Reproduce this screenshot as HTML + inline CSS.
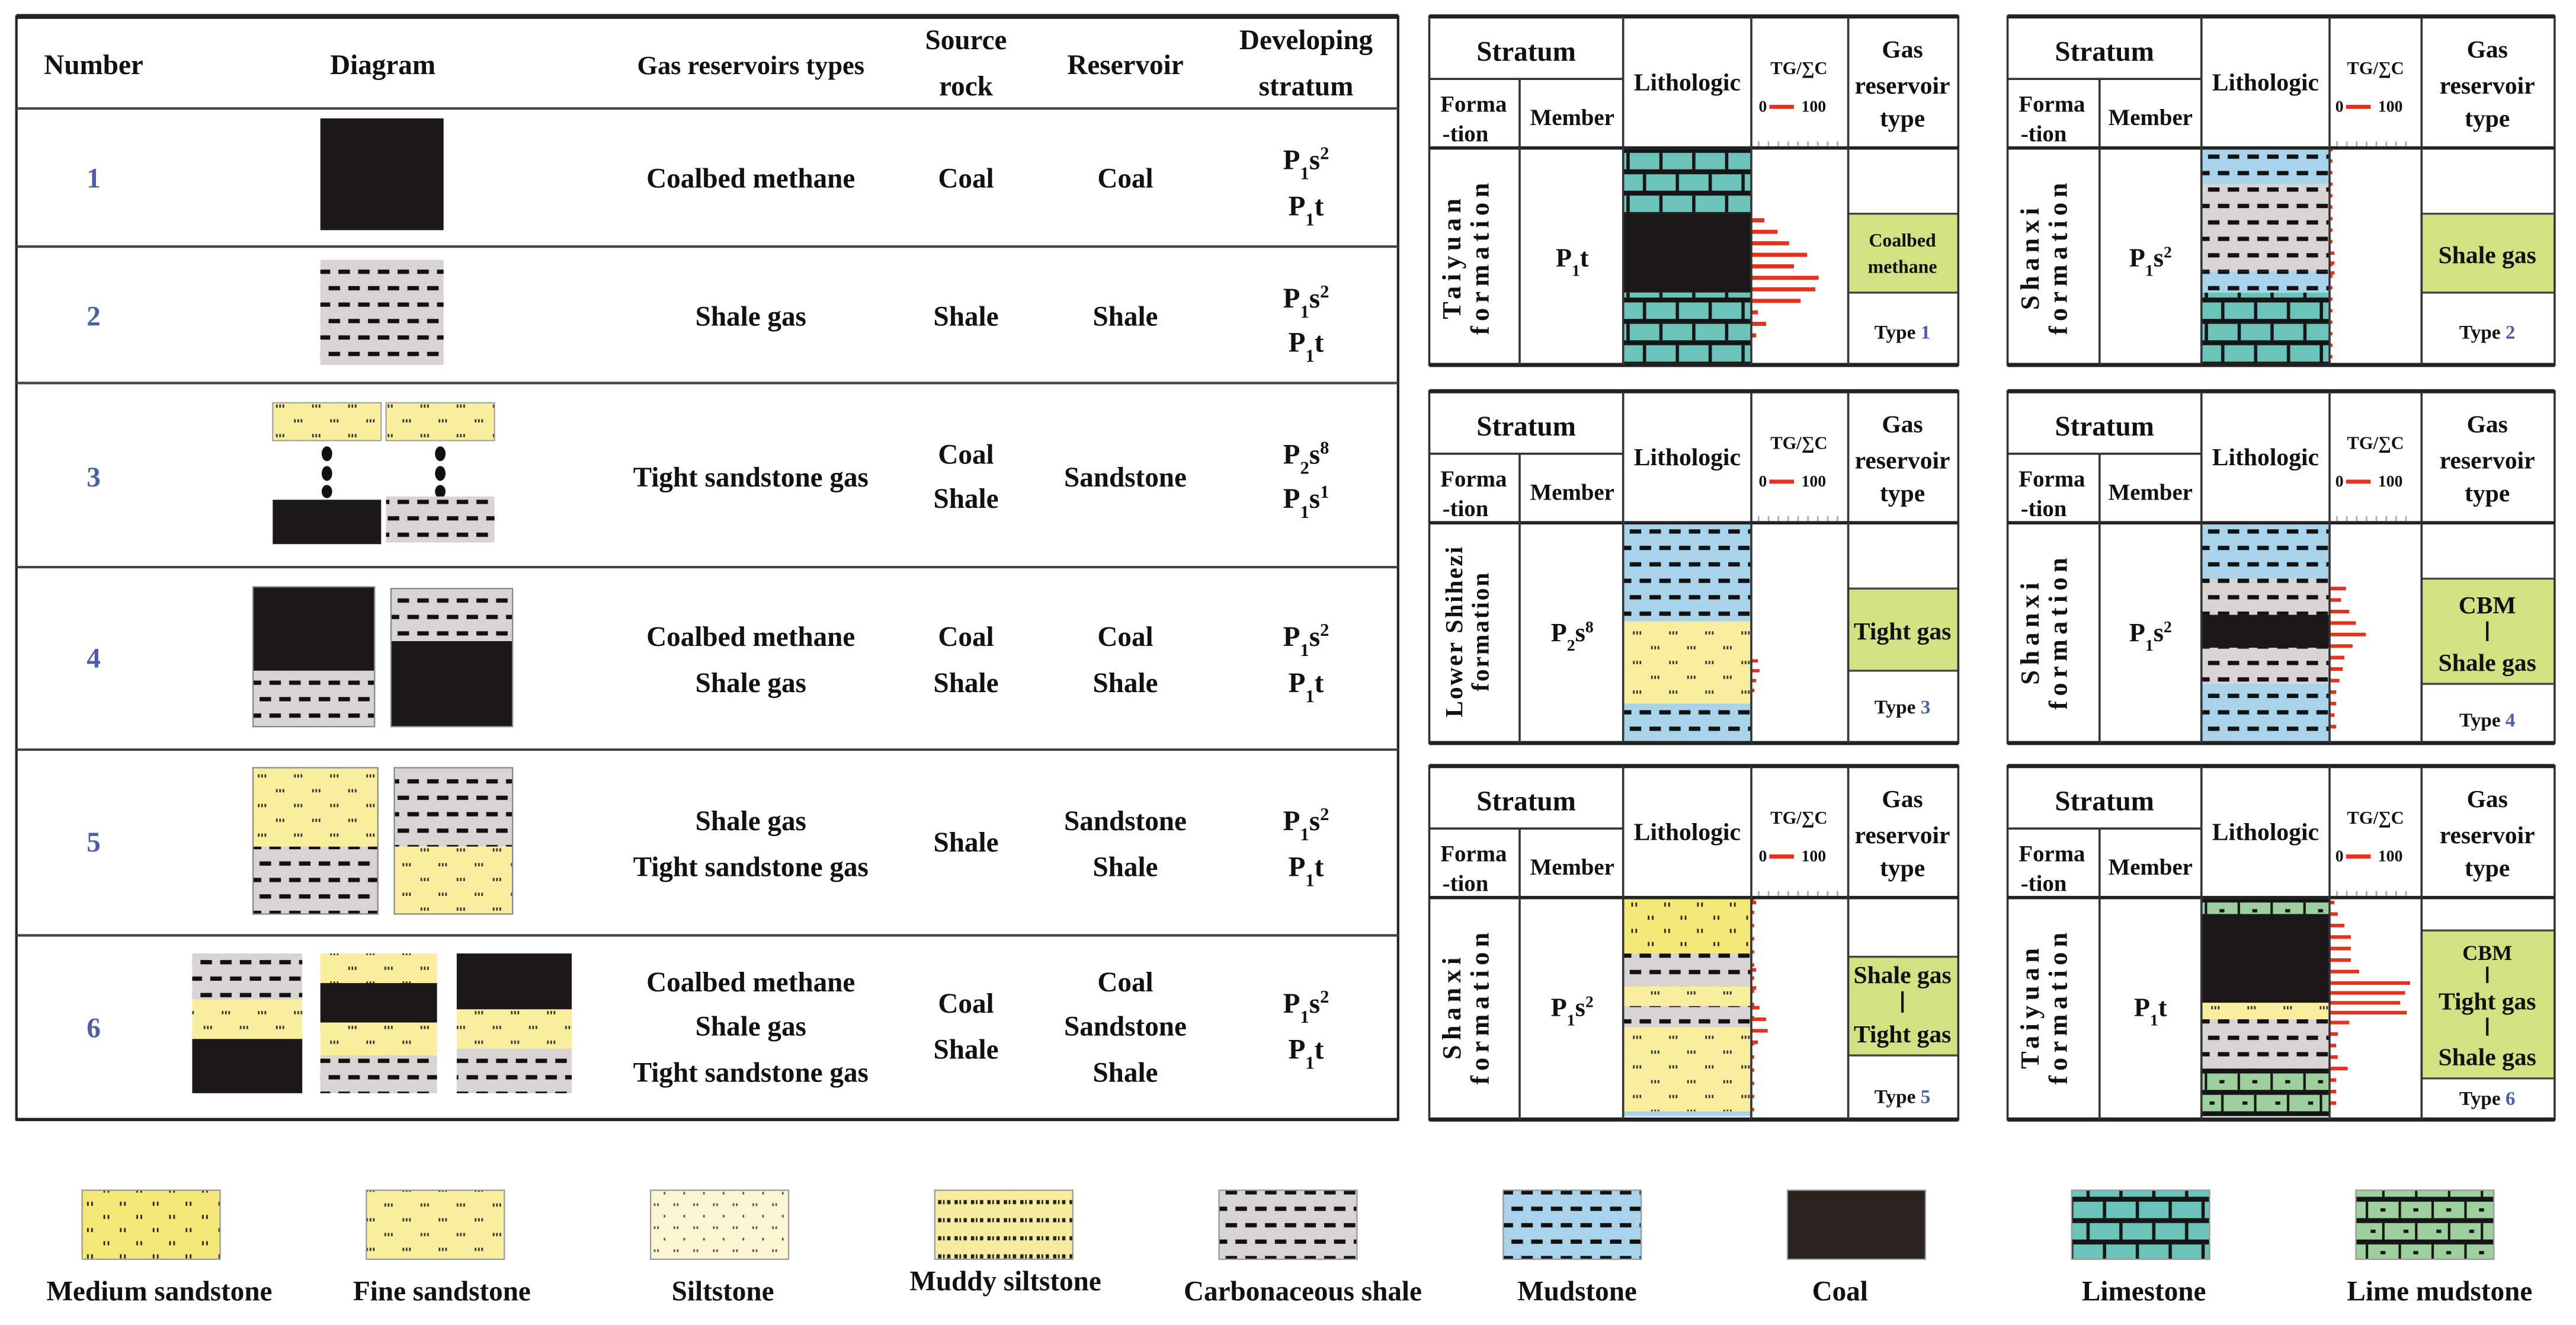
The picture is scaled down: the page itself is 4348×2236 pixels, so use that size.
<!DOCTYPE html>
<html><head><meta charset="utf-8"><style>
html,body{margin:0;padding:0;background:#fff;}
svg{display:block;}
text{font-family:"Liberation Serif",serif;font-weight:bold;fill:#111;}
</style></head><body>
<svg width="4348" height="2236" viewBox="0 0 1568 806" preserveAspectRatio="none" xmlns="http://www.w3.org/2000/svg">
<defs>
<pattern id="sh" patternUnits="userSpaceOnUse" width="24" height="20"><rect width="24" height="20" fill="#d8d4d3"/><rect x="2" y="4" width="7" height="2.6" fill="#111"/><rect x="14" y="4" width="7" height="2.6" fill="#111"/><rect x="-4" y="14" width="7" height="2.6" fill="#111"/><rect x="8" y="14" width="7" height="2.6" fill="#111"/><rect x="20" y="14" width="7" height="2.6" fill="#111"/></pattern>
<pattern id="md" patternUnits="userSpaceOnUse" width="24" height="20"><rect width="24" height="20" fill="#a8d3ea"/><rect x="2" y="4" width="7" height="2.6" fill="#111"/><rect x="14" y="4" width="7" height="2.6" fill="#111"/><rect x="-4" y="14" width="7" height="2.6" fill="#111"/><rect x="8" y="14" width="7" height="2.6" fill="#111"/><rect x="20" y="14" width="7" height="2.6" fill="#111"/></pattern>
<pattern id="ls" patternUnits="userSpaceOnUse" width="20" height="26"><rect width="20" height="26" fill="#6cc3ba"/><rect y="0" width="20" height="3" fill="#151515"/><rect x="0" y="3" width="2" height="10" fill="#151515"/><rect y="13" width="20" height="3" fill="#151515"/><rect x="10" y="16" width="2" height="10" fill="#151515"/></pattern>
<pattern id="lm" patternUnits="userSpaceOnUse" width="20" height="26"><rect width="20" height="26" fill="#9dd09e"/><rect y="0" width="20" height="3" fill="#151515"/><rect x="0" y="3" width="1.5" height="10" fill="#151515"/><rect x="9" y="7" width="3" height="2" fill="#151515"/><rect y="13" width="20" height="3" fill="#151515"/><rect x="10" y="16" width="1.5" height="10" fill="#151515"/><rect x="3" y="20" width="3" height="2" fill="#151515"/></pattern>
<pattern id="ms" patternUnits="userSpaceOnUse" width="20" height="16"><rect width="20" height="16" fill="#f4e877"/><rect x="3" y="3" width="1" height="2.5" fill="#222"/><rect x="5.5" y="3" width="1" height="2.5" fill="#222"/><rect x="13" y="11" width="1" height="2.5" fill="#222"/><rect x="15.5" y="11" width="1" height="2.5" fill="#222"/></pattern>
<pattern id="fs" patternUnits="userSpaceOnUse" width="22" height="18"><rect width="22" height="18" fill="#f8ee9e"/><rect x="3" y="3" width="1" height="2" fill="#333"/><rect x="5" y="3" width="1" height="2" fill="#333"/><rect x="7" y="3" width="1" height="2" fill="#333"/><rect x="14" y="12" width="1" height="2" fill="#333"/><rect x="16" y="12" width="1" height="2" fill="#333"/><rect x="18" y="12" width="1" height="2" fill="#333"/></pattern>
<pattern id="si" patternUnits="userSpaceOnUse" width="12" height="14"><rect width="12" height="14" fill="#fbf5d2"/><rect x="2" y="4" width="1" height="1.6" fill="#555"/><rect x="4" y="4" width="1" height="1.6" fill="#555"/><rect x="8" y="11" width="1" height="1.6" fill="#555"/></pattern>
<pattern id="mu" patternUnits="userSpaceOnUse" width="10" height="11"><rect width="10" height="11" fill="#f7ec9d"/><rect x="1" y="4" width="2" height="2.5" fill="#222"/><rect x="4" y="4" width="1" height="2.5" fill="#222"/><rect x="6.5" y="4" width="2" height="2.5" fill="#222"/></pattern>
</defs>

<!-- LEFT TABLE -->
<rect x="10" y="10" width="841" height="671" fill="none" stroke="#222" stroke-width="1.5"/>
<line x1="10" y1="10" x2="851" y2="10" stroke="#222" stroke-width="3"/>
<g stroke="#444" stroke-width="1.5">
<line x1="10" y1="66" x2="851" y2="66"/><line x1="10" y1="150" x2="851" y2="150"/><line x1="10" y1="233" x2="851" y2="233"/><line x1="10" y1="345" x2="851" y2="345"/><line x1="10" y1="456" x2="851" y2="456"/><line x1="10" y1="569" x2="851" y2="569"/>
</g>
<line x1="10" y1="681" x2="851" y2="681" stroke="#222" stroke-width="2"/>
<g font-size="17" text-anchor="middle">
<text x="57" y="45">Number</text><text x="233" y="45">Diagram</text><text x="457" y="45" font-size="16">Gas reservoirs types</text>
<text x="588" y="30">Source</text><text x="588" y="58">rock</text><text x="685" y="45">Reservoir</text>
<text x="795" y="30">Developing</text><text x="795" y="58">stratum</text>
</g>
<g font-size="17" text-anchor="middle">
<text x="57" y="114" style="fill:#4a5fa8">1</text><text x="57" y="198" style="fill:#4a5fa8">2</text><text x="57" y="296" style="fill:#4a5fa8">3</text><text x="57" y="406" style="fill:#4a5fa8">4</text><text x="57" y="518" style="fill:#4a5fa8">5</text><text x="57" y="631" style="fill:#4a5fa8">6</text>
</g>
<g font-size="17" text-anchor="middle">
<text x="457" y="114">Coalbed methane</text><text x="588" y="114">Coal</text><text x="685" y="114">Coal</text>
<text x="457" y="198">Shale gas</text><text x="588" y="198">Shale</text><text x="685" y="198">Shale</text>
<text x="457" y="296">Tight sandstone gas</text><text x="588" y="282">Coal</text><text x="588" y="309">Shale</text><text x="685" y="296">Sandstone</text>
<text x="457" y="393">Coalbed methane</text><text x="457" y="421">Shale gas</text><text x="588" y="393">Coal</text><text x="588" y="421">Shale</text><text x="685" y="393">Coal</text><text x="685" y="421">Shale</text>
<text x="457" y="505">Shale gas</text><text x="457" y="533">Tight sandstone gas</text><text x="588" y="518">Shale</text><text x="685" y="505">Sandstone</text><text x="685" y="533">Shale</text>
<text x="457" y="603">Coalbed methane</text><text x="457" y="630">Shale gas</text><text x="457" y="658">Tight sandstone gas</text><text x="588" y="616">Coal</text><text x="588" y="644">Shale</text><text x="685" y="603">Coal</text><text x="685" y="630">Sandstone</text><text x="685" y="658">Shale</text>
<text x="795" y="103">P<tspan font-size="11" baseline-shift="sub">1</tspan>s<tspan font-size="11" baseline-shift="super">2</tspan></text><text x="795" y="131">P<tspan font-size="11" baseline-shift="sub">1</tspan>t</text>
<text x="795" y="187">P<tspan font-size="11" baseline-shift="sub">1</tspan>s<tspan font-size="11" baseline-shift="super">2</tspan></text><text x="795" y="214">P<tspan font-size="11" baseline-shift="sub">1</tspan>t</text>
<text x="795" y="282">P<tspan font-size="11" baseline-shift="sub">2</tspan>s<tspan font-size="11" baseline-shift="super">8</tspan></text><text x="795" y="309">P<tspan font-size="11" baseline-shift="sub">1</tspan>s<tspan font-size="11" baseline-shift="super">1</tspan></text>
<text x="795" y="393">P<tspan font-size="11" baseline-shift="sub">1</tspan>s<tspan font-size="11" baseline-shift="super">2</tspan></text><text x="795" y="421">P<tspan font-size="11" baseline-shift="sub">1</tspan>t</text>
<text x="795" y="505">P<tspan font-size="11" baseline-shift="sub">1</tspan>s<tspan font-size="11" baseline-shift="super">2</tspan></text><text x="795" y="533">P<tspan font-size="11" baseline-shift="sub">1</tspan>t</text>
<text x="795" y="616">P<tspan font-size="11" baseline-shift="sub">1</tspan>s<tspan font-size="11" baseline-shift="super">2</tspan></text><text x="795" y="644">P<tspan font-size="11" baseline-shift="sub">1</tspan>t</text>
</g>
<!-- diagrams -->
<rect x="195" y="72" width="75" height="68" fill="#1c1718"/>
<rect x="195" y="158" width="75" height="64" fill="url(#sh)"/>
<rect x="166" y="245" width="66" height="23" fill="url(#fs)" stroke="#999" stroke-width="0.7"/><rect x="235" y="245" width="66" height="23" fill="url(#fs)" stroke="#999" stroke-width="0.7"/>
<g fill="#111"><ellipse cx="199" cy="276" rx="3.2" ry="4.5"/><ellipse cx="199" cy="288" rx="3.2" ry="4.5"/><ellipse cx="199" cy="299" rx="3.2" ry="4"/><ellipse cx="268" cy="276" rx="3.2" ry="4.5"/><ellipse cx="268" cy="288" rx="3.2" ry="4.5"/><ellipse cx="268" cy="299" rx="3.2" ry="4"/></g>
<rect x="166" y="304" width="66" height="27" fill="#1c1718"/><rect x="235" y="302" width="66" height="28" fill="url(#sh)"/>
<rect x="154" y="357" width="74" height="51" fill="#1c1718"/><rect x="154" y="408" width="74" height="34" fill="url(#sh)"/>
<rect x="238" y="358" width="74" height="32" fill="url(#sh)"/><rect x="238" y="390" width="74" height="52" fill="#1c1718"/>
<rect x="154" y="467" width="76" height="48" fill="url(#fs)"/><rect x="154" y="515" width="76" height="41" fill="url(#sh)"/>
<rect x="240" y="467" width="72" height="48" fill="url(#sh)"/><rect x="240" y="515" width="72" height="41" fill="url(#fs)"/>
<g stroke="#888" stroke-width="0.8" fill="none"><rect x="154" y="357" width="74" height="85"/><rect x="238" y="358" width="74" height="84"/><rect x="154" y="467" width="76" height="89"/><rect x="240" y="467" width="72" height="89"/></g>
<rect x="117" y="580" width="67" height="28" fill="url(#sh)"/><rect x="117" y="608" width="67" height="24" fill="url(#fs)"/><rect x="117" y="632" width="67" height="33" fill="#1c1718"/>
<rect x="195" y="580" width="71" height="18" fill="url(#fs)"/><rect x="195" y="598" width="71" height="24" fill="#1c1718"/><rect x="195" y="622" width="71" height="20" fill="url(#fs)"/><rect x="195" y="642" width="71" height="23" fill="url(#sh)"/>
<rect x="278" y="580" width="70" height="34" fill="#1c1718"/><rect x="278" y="614" width="70" height="24" fill="url(#fs)"/><rect x="278" y="638" width="70" height="27" fill="url(#sh)"/>

<!-- PANEL 1 -->
<g transform="translate(870,10)">
<g transform="translate(0,80)">
<rect x="118" y="0" width="78" height="40" fill="url(#ls)"/><rect x="118" y="40" width="78" height="48" fill="#1c1718"/><rect x="118" y="88" width="78" height="45" fill="url(#ls)"/>
<rect x="255" y="40" width="67" height="48" fill="#d2e283"/>
<g stroke="#e8301f" stroke-width="2.5"><line x1="196" y1="44" x2="204" y2="44"/><line x1="196" y1="51" x2="212" y2="51"/><line x1="196" y1="58" x2="219" y2="58"/><line x1="196" y1="65" x2="230" y2="65"/><line x1="196" y1="72" x2="222" y2="72"/><line x1="196" y1="79" x2="237" y2="79"/><line x1="196" y1="86" x2="235" y2="86"/><line x1="196" y1="93" x2="226" y2="93"/><line x1="196" y1="100" x2="200" y2="100"/><line x1="196" y1="107" x2="205" y2="107"/><line x1="196" y1="114" x2="199" y2="114"/></g>
<text x="288" y="60" font-size="11.5" text-anchor="middle">Coalbed</text><text x="288" y="76" font-size="11.5" text-anchor="middle">methane</text>
<text x="288" y="116" font-size="12" text-anchor="middle">Type <tspan style="fill:#4a5fa8">1</tspan></text>
<text transform="translate(19,66) rotate(-90)" font-size="16" text-anchor="middle" letter-spacing="3">Taiyuan</text><text transform="translate(36,66) rotate(-90)" font-size="16" text-anchor="middle" letter-spacing="3">formation</text>
<text x="87" y="72" font-size="16" text-anchor="middle">P<tspan font-size="10" baseline-shift="sub">1</tspan>t</text>
</g>
<line x1="255" y1="120" x2="322" y2="120" stroke="#444" stroke-width="1.2"/><line x1="255" y1="168" x2="322" y2="168" stroke="#444" stroke-width="1.2"/>
</g>

<!-- PANEL 2 -->
<g transform="translate(1222,10)">
<g transform="translate(0,80)">
<rect x="118" y="0" width="78" height="22" fill="url(#md)"/><rect x="118" y="22" width="78" height="53" fill="url(#sh)"/><rect x="118" y="75" width="78" height="13" fill="url(#md)"/><rect x="118" y="88" width="78" height="45" fill="url(#ls)"/>
<rect x="252" y="40" width="81" height="48" fill="#d2e283"/>
<line x1="197" y1="0" x2="197" y2="130" stroke="#e8301f" stroke-width="1.5" stroke-dasharray="2 5"/>
<g stroke="#e8301f" stroke-width="2"><line x1="196" y1="64" x2="199" y2="64"/><line x1="196" y1="70" x2="199" y2="70"/><line x1="196" y1="76" x2="199" y2="76"/></g>
<text x="292" y="70" font-size="15" text-anchor="middle">Shale gas</text>
<text x="292" y="116" font-size="12" text-anchor="middle">Type <tspan style="fill:#4a5fa8">2</tspan></text>
<text transform="translate(19,66) rotate(-90)" font-size="16" text-anchor="middle" letter-spacing="3">Shanxi</text><text transform="translate(36,66) rotate(-90)" font-size="16" text-anchor="middle" letter-spacing="3">formation</text>
<text x="87" y="72" font-size="16" text-anchor="middle">P<tspan font-size="10" baseline-shift="sub">1</tspan>s<tspan font-size="10" baseline-shift="super">2</tspan></text>
</g>
<line x1="252" y1="120" x2="333" y2="120" stroke="#444" stroke-width="1.2"/><line x1="252" y1="168" x2="333" y2="168" stroke="#444" stroke-width="1.2"/>
</g>

<!-- PANEL 3 -->
<g transform="translate(870,238)">
<g transform="translate(0,80)">
<rect x="118" y="0" width="78" height="60" fill="url(#md)"/><rect x="118" y="60" width="78" height="50" fill="url(#fs)"/><rect x="118" y="110" width="78" height="23" fill="url(#md)"/>
<rect x="255" y="40" width="67" height="50" fill="#d2e283"/>
<g stroke="#e8301f" stroke-width="2"><line x1="196" y1="84" x2="200" y2="84"/><line x1="196" y1="90" x2="201" y2="90"/><line x1="196" y1="96" x2="199" y2="96"/><line x1="196" y1="102" x2="198" y2="102"/></g>
<text x="288" y="71" font-size="15" text-anchor="middle">Tight gas</text>
<text x="288" y="116" font-size="12" text-anchor="middle">Type <tspan style="fill:#4a5fa8">3</tspan></text>
<text transform="translate(20,66) rotate(-90)" font-size="15" text-anchor="middle" letter-spacing="1">Lower Shihezi</text><text transform="translate(36,66) rotate(-90)" font-size="15" text-anchor="middle" letter-spacing="1">formation</text>
<text x="87" y="72" font-size="16" text-anchor="middle">P<tspan font-size="10" baseline-shift="sub">2</tspan>s<tspan font-size="10" baseline-shift="super">8</tspan></text>
</g>
<line x1="255" y1="120" x2="322" y2="120" stroke="#444" stroke-width="1.2"/><line x1="255" y1="170" x2="322" y2="170" stroke="#444" stroke-width="1.2"/>
</g>

<!-- PANEL 4 -->
<g transform="translate(1222,238)">
<g transform="translate(0,80)">
<rect x="118" y="0" width="78" height="34" fill="url(#md)"/><rect x="118" y="34" width="78" height="22" fill="url(#sh)"/><rect x="118" y="56" width="78" height="20" fill="#1c1718"/><rect x="118" y="76" width="78" height="22" fill="url(#sh)"/><rect x="118" y="98" width="78" height="35" fill="url(#md)"/>
<rect x="252" y="34" width="81" height="64" fill="#d2e283"/>
<g stroke="#e8301f" stroke-width="2.2"><line x1="196" y1="40" x2="206" y2="40"/><line x1="196" y1="47" x2="203" y2="47"/><line x1="196" y1="54" x2="208" y2="54"/><line x1="196" y1="61" x2="212" y2="61"/><line x1="196" y1="68" x2="218" y2="68"/><line x1="196" y1="75" x2="210" y2="75"/><line x1="196" y1="82" x2="205" y2="82"/><line x1="196" y1="89" x2="204" y2="89"/><line x1="196" y1="96" x2="202" y2="96"/><line x1="196" y1="103" x2="200" y2="103"/><line x1="196" y1="110" x2="200" y2="110"/><line x1="196" y1="117" x2="199" y2="117"/><line x1="196" y1="124" x2="200" y2="124"/></g>
<text x="292" y="55" font-size="15" text-anchor="middle">CBM</text><line x1="292" y1="60" x2="292" y2="72" stroke="#111" stroke-width="1.5"/><text x="292" y="90" font-size="15" text-anchor="middle">Shale gas</text>
<text x="292" y="124" font-size="12" text-anchor="middle">Type <tspan style="fill:#4a5fa8">4</tspan></text>
<text transform="translate(19,66) rotate(-90)" font-size="16" text-anchor="middle" letter-spacing="3">Shanxi</text><text transform="translate(36,66) rotate(-90)" font-size="16" text-anchor="middle" letter-spacing="3">formation</text>
<text x="87" y="72" font-size="16" text-anchor="middle">P<tspan font-size="10" baseline-shift="sub">1</tspan>s<tspan font-size="10" baseline-shift="super">2</tspan></text>
</g>
<line x1="252" y1="114" x2="333" y2="114" stroke="#444" stroke-width="1.2"/><line x1="252" y1="178" x2="333" y2="178" stroke="#444" stroke-width="1.2"/>
</g>

<!-- PANEL 5 -->
<g transform="translate(870,466)">
<g transform="translate(0,80)">
<rect x="118" y="0" width="78" height="34" fill="url(#ms)"/><rect x="118" y="34" width="78" height="20" fill="url(#sh)"/><rect x="118" y="54" width="78" height="12" fill="url(#fs)"/><rect x="118" y="66" width="78" height="13" fill="url(#sh)"/><rect x="118" y="79" width="78" height="51" fill="url(#fs)"/><rect x="118" y="130" width="78" height="3" fill="#a8d3ea"/>
<rect x="255" y="36" width="67" height="60" fill="#d2e283"/>
<line x1="197" y1="0" x2="197" y2="130" stroke="#e8301f" stroke-width="1.5" stroke-dasharray="2 6"/>
<g stroke="#e8301f" stroke-width="2.2"><line x1="196" y1="3" x2="199" y2="3"/><line x1="196" y1="44" x2="199" y2="44"/><line x1="196" y1="55" x2="199" y2="55"/><line x1="196" y1="67" x2="201" y2="67"/><line x1="196" y1="74" x2="205" y2="74"/><line x1="196" y1="81" x2="206" y2="81"/><line x1="196" y1="88" x2="200" y2="88"/></g>
<text x="288" y="52" font-size="15" text-anchor="middle">Shale gas</text><line x1="288" y1="57" x2="288" y2="70" stroke="#111" stroke-width="1.5"/><text x="288" y="88" font-size="15" text-anchor="middle">Tight gas</text>
<text x="288" y="125" font-size="12" text-anchor="middle">Type <tspan style="fill:#4a5fa8">5</tspan></text>
<text transform="translate(19,66) rotate(-90)" font-size="16" text-anchor="middle" letter-spacing="3">Shanxi</text><text transform="translate(36,66) rotate(-90)" font-size="16" text-anchor="middle" letter-spacing="3">formation</text>
<text x="87" y="72" font-size="16" text-anchor="middle">P<tspan font-size="10" baseline-shift="sub">1</tspan>s<tspan font-size="10" baseline-shift="super">2</tspan></text>
</g>
<line x1="255" y1="116" x2="322" y2="116" stroke="#444" stroke-width="1.2"/><line x1="255" y1="176" x2="322" y2="176" stroke="#444" stroke-width="1.2"/>
</g>

<!-- PANEL 6 -->
<g transform="translate(1222,466)">
<g transform="translate(0,80)">
<rect x="118" y="0" width="78" height="10" fill="url(#lm)"/><rect x="118" y="10" width="78" height="54" fill="#1c1718"/><rect x="118" y="64" width="78" height="10" fill="url(#fs)"/><rect x="118" y="74" width="78" height="30" fill="url(#sh)"/><rect x="118" y="104" width="78" height="29" fill="url(#lm)"/>
<rect x="252" y="20" width="81" height="90" fill="#d2e283"/>
<g stroke="#e8301f" stroke-width="2.2"><line x1="196" y1="3" x2="199" y2="3"/><line x1="196" y1="10" x2="201" y2="10"/><line x1="196" y1="17" x2="205" y2="17"/><line x1="196" y1="24" x2="209" y2="24"/><line x1="196" y1="31" x2="209" y2="31"/><line x1="196" y1="38" x2="209" y2="38"/><line x1="196" y1="45" x2="214" y2="45"/><line x1="196" y1="52" x2="245" y2="52"/><line x1="196" y1="58" x2="242" y2="58"/><line x1="196" y1="64" x2="239" y2="64"/><line x1="196" y1="70" x2="243" y2="70"/><line x1="196" y1="76" x2="208" y2="76"/><line x1="196" y1="83" x2="201" y2="83"/><line x1="196" y1="90" x2="200" y2="90"/><line x1="196" y1="97" x2="201" y2="97"/><line x1="196" y1="104" x2="207" y2="104"/><line x1="196" y1="111" x2="200" y2="111"/><line x1="196" y1="118" x2="200" y2="118"/><line x1="196" y1="125" x2="200" y2="125"/></g>
<text x="292" y="38" font-size="13" text-anchor="middle">CBM</text><line x1="292" y1="42" x2="292" y2="52" stroke="#111" stroke-width="1.5"/><text x="292" y="68" font-size="15" text-anchor="middle">Tight gas</text><line x1="292" y1="73" x2="292" y2="84" stroke="#111" stroke-width="1.5"/><text x="292" y="102" font-size="15" text-anchor="middle">Shale gas</text>
<text x="292" y="126" font-size="12" text-anchor="middle">Type <tspan style="fill:#4a5fa8">6</tspan></text>
<text transform="translate(19,66) rotate(-90)" font-size="16" text-anchor="middle" letter-spacing="3">Taiyuan</text><text transform="translate(36,66) rotate(-90)" font-size="16" text-anchor="middle" letter-spacing="3">formation</text>
<text x="87" y="72" font-size="16" text-anchor="middle">P<tspan font-size="10" baseline-shift="sub">1</tspan>t</text>
</g>
<line x1="252" y1="100" x2="333" y2="100" stroke="#444" stroke-width="1.2"/><line x1="252" y1="190" x2="333" y2="190" stroke="#444" stroke-width="1.2"/>
</g>

<!-- PANEL FRAMES & HEADERS -->
<g>
<g transform="translate(870,10)"><rect x="0" y="0" width="322" height="212" fill="none" stroke="#333" stroke-width="1.3"/><line x1="0" y1="0" x2="322" y2="0" stroke="#222" stroke-width="2.5"/><line x1="0" y1="212" x2="322" y2="212" stroke="#222" stroke-width="2.5"/><line x1="0" y1="80" x2="322" y2="80" stroke="#222" stroke-width="2"/><line x1="0" y1="38" x2="118" y2="38" stroke="#333" stroke-width="1.3"/><g stroke="#333" stroke-width="1.3"><line x1="55" y1="38" x2="55" y2="212"/><line x1="118" y1="0" x2="118" y2="212"/><line x1="196" y1="0" x2="196" y2="212"/><line x1="255" y1="0" x2="255" y2="212"/></g>
<text x="59" y="27" font-size="17" text-anchor="middle">Stratum</text><text x="27" y="58" font-size="14" text-anchor="middle">Forma</text><text x="22" y="76" font-size="14" text-anchor="middle">-tion</text><text x="87" y="66" font-size="14" text-anchor="middle">Member</text><text x="157" y="45" font-size="15" text-anchor="middle">Lithologic</text><text x="225" y="35" font-size="11" text-anchor="middle">TG/∑C</text><text x="203" y="58" font-size="10" text-anchor="middle">0</text><line x1="207" y1="55" x2="222" y2="55" stroke="#e8301f" stroke-width="2.5"/><text x="234" y="58" font-size="10" text-anchor="middle">100</text><line x1="200" y1="77.5" x2="250" y2="77.5" stroke="#aaa" stroke-width="3" stroke-dasharray="1 5"/><text x="288" y="25" font-size="15" text-anchor="middle">Gas</text><text x="288" y="47" font-size="15" text-anchor="middle">reservoir</text><text x="288" y="67" font-size="15" text-anchor="middle">type</text></g>
<g transform="translate(870,238)"><rect x="0" y="0" width="322" height="214" fill="none" stroke="#333" stroke-width="1.3"/><line x1="0" y1="0" x2="322" y2="0" stroke="#222" stroke-width="2.5"/><line x1="0" y1="214" x2="322" y2="214" stroke="#222" stroke-width="2.5"/><line x1="0" y1="80" x2="322" y2="80" stroke="#222" stroke-width="2"/><line x1="0" y1="38" x2="118" y2="38" stroke="#333" stroke-width="1.3"/><g stroke="#333" stroke-width="1.3"><line x1="55" y1="38" x2="55" y2="214"/><line x1="118" y1="0" x2="118" y2="214"/><line x1="196" y1="0" x2="196" y2="214"/><line x1="255" y1="0" x2="255" y2="214"/></g>
<text x="59" y="27" font-size="17" text-anchor="middle">Stratum</text><text x="27" y="58" font-size="14" text-anchor="middle">Forma</text><text x="22" y="76" font-size="14" text-anchor="middle">-tion</text><text x="87" y="66" font-size="14" text-anchor="middle">Member</text><text x="157" y="45" font-size="15" text-anchor="middle">Lithologic</text><text x="225" y="35" font-size="11" text-anchor="middle">TG/∑C</text><text x="203" y="58" font-size="10" text-anchor="middle">0</text><line x1="207" y1="55" x2="222" y2="55" stroke="#e8301f" stroke-width="2.5"/><text x="234" y="58" font-size="10" text-anchor="middle">100</text><line x1="200" y1="77.5" x2="250" y2="77.5" stroke="#aaa" stroke-width="3" stroke-dasharray="1 5"/><text x="288" y="25" font-size="15" text-anchor="middle">Gas</text><text x="288" y="47" font-size="15" text-anchor="middle">reservoir</text><text x="288" y="67" font-size="15" text-anchor="middle">type</text></g>
<g transform="translate(870,466)"><rect x="0" y="0" width="322" height="215" fill="none" stroke="#333" stroke-width="1.3"/><line x1="0" y1="0" x2="322" y2="0" stroke="#222" stroke-width="2.5"/><line x1="0" y1="215" x2="322" y2="215" stroke="#222" stroke-width="2.5"/><line x1="0" y1="80" x2="322" y2="80" stroke="#222" stroke-width="2"/><line x1="0" y1="38" x2="118" y2="38" stroke="#333" stroke-width="1.3"/><g stroke="#333" stroke-width="1.3"><line x1="55" y1="38" x2="55" y2="215"/><line x1="118" y1="0" x2="118" y2="215"/><line x1="196" y1="0" x2="196" y2="215"/><line x1="255" y1="0" x2="255" y2="215"/></g>
<text x="59" y="27" font-size="17" text-anchor="middle">Stratum</text><text x="27" y="58" font-size="14" text-anchor="middle">Forma</text><text x="22" y="76" font-size="14" text-anchor="middle">-tion</text><text x="87" y="66" font-size="14" text-anchor="middle">Member</text><text x="157" y="45" font-size="15" text-anchor="middle">Lithologic</text><text x="225" y="35" font-size="11" text-anchor="middle">TG/∑C</text><text x="203" y="58" font-size="10" text-anchor="middle">0</text><line x1="207" y1="55" x2="222" y2="55" stroke="#e8301f" stroke-width="2.5"/><text x="234" y="58" font-size="10" text-anchor="middle">100</text><line x1="200" y1="77.5" x2="250" y2="77.5" stroke="#aaa" stroke-width="3" stroke-dasharray="1 5"/><text x="288" y="25" font-size="15" text-anchor="middle">Gas</text><text x="288" y="47" font-size="15" text-anchor="middle">reservoir</text><text x="288" y="67" font-size="15" text-anchor="middle">type</text></g>
<g transform="translate(1222,10)"><rect x="0" y="0" width="333" height="212" fill="none" stroke="#333" stroke-width="1.3"/><line x1="0" y1="0" x2="333" y2="0" stroke="#222" stroke-width="2.5"/><line x1="0" y1="212" x2="333" y2="212" stroke="#222" stroke-width="2.5"/><line x1="0" y1="80" x2="333" y2="80" stroke="#222" stroke-width="2"/><line x1="0" y1="38" x2="118" y2="38" stroke="#333" stroke-width="1.3"/><g stroke="#333" stroke-width="1.3"><line x1="56" y1="38" x2="56" y2="212"/><line x1="118" y1="0" x2="118" y2="212"/><line x1="196" y1="0" x2="196" y2="212"/><line x1="252" y1="0" x2="252" y2="212"/></g>
<text x="59" y="27" font-size="17" text-anchor="middle">Stratum</text><text x="27" y="58" font-size="14" text-anchor="middle">Forma</text><text x="22" y="76" font-size="14" text-anchor="middle">-tion</text><text x="87" y="66" font-size="14" text-anchor="middle">Member</text><text x="157" y="45" font-size="15" text-anchor="middle">Lithologic</text><text x="224" y="35" font-size="11" text-anchor="middle">TG/∑C</text><text x="202" y="58" font-size="10" text-anchor="middle">0</text><line x1="206" y1="55" x2="221" y2="55" stroke="#e8301f" stroke-width="2.5"/><text x="233" y="58" font-size="10" text-anchor="middle">100</text><line x1="200" y1="77.5" x2="248" y2="77.5" stroke="#aaa" stroke-width="3" stroke-dasharray="1 5"/><text x="292" y="25" font-size="15" text-anchor="middle">Gas</text><text x="292" y="47" font-size="15" text-anchor="middle">reservoir</text><text x="292" y="67" font-size="15" text-anchor="middle">type</text></g>
<g transform="translate(1222,238)"><rect x="0" y="0" width="333" height="214" fill="none" stroke="#333" stroke-width="1.3"/><line x1="0" y1="0" x2="333" y2="0" stroke="#222" stroke-width="2.5"/><line x1="0" y1="214" x2="333" y2="214" stroke="#222" stroke-width="2.5"/><line x1="0" y1="80" x2="333" y2="80" stroke="#222" stroke-width="2"/><line x1="0" y1="38" x2="118" y2="38" stroke="#333" stroke-width="1.3"/><g stroke="#333" stroke-width="1.3"><line x1="56" y1="38" x2="56" y2="214"/><line x1="118" y1="0" x2="118" y2="214"/><line x1="196" y1="0" x2="196" y2="214"/><line x1="252" y1="0" x2="252" y2="214"/></g>
<text x="59" y="27" font-size="17" text-anchor="middle">Stratum</text><text x="27" y="58" font-size="14" text-anchor="middle">Forma</text><text x="22" y="76" font-size="14" text-anchor="middle">-tion</text><text x="87" y="66" font-size="14" text-anchor="middle">Member</text><text x="157" y="45" font-size="15" text-anchor="middle">Lithologic</text><text x="224" y="35" font-size="11" text-anchor="middle">TG/∑C</text><text x="202" y="58" font-size="10" text-anchor="middle">0</text><line x1="206" y1="55" x2="221" y2="55" stroke="#e8301f" stroke-width="2.5"/><text x="233" y="58" font-size="10" text-anchor="middle">100</text><line x1="200" y1="77.5" x2="248" y2="77.5" stroke="#aaa" stroke-width="3" stroke-dasharray="1 5"/><text x="292" y="25" font-size="15" text-anchor="middle">Gas</text><text x="292" y="47" font-size="15" text-anchor="middle">reservoir</text><text x="292" y="67" font-size="15" text-anchor="middle">type</text></g>
<g transform="translate(1222,466)"><rect x="0" y="0" width="333" height="215" fill="none" stroke="#333" stroke-width="1.3"/><line x1="0" y1="0" x2="333" y2="0" stroke="#222" stroke-width="2.5"/><line x1="0" y1="215" x2="333" y2="215" stroke="#222" stroke-width="2.5"/><line x1="0" y1="80" x2="333" y2="80" stroke="#222" stroke-width="2"/><line x1="0" y1="38" x2="118" y2="38" stroke="#333" stroke-width="1.3"/><g stroke="#333" stroke-width="1.3"><line x1="56" y1="38" x2="56" y2="215"/><line x1="118" y1="0" x2="118" y2="215"/><line x1="196" y1="0" x2="196" y2="215"/><line x1="252" y1="0" x2="252" y2="215"/></g>
<text x="59" y="27" font-size="17" text-anchor="middle">Stratum</text><text x="27" y="58" font-size="14" text-anchor="middle">Forma</text><text x="22" y="76" font-size="14" text-anchor="middle">-tion</text><text x="87" y="66" font-size="14" text-anchor="middle">Member</text><text x="157" y="45" font-size="15" text-anchor="middle">Lithologic</text><text x="224" y="35" font-size="11" text-anchor="middle">TG/∑C</text><text x="202" y="58" font-size="10" text-anchor="middle">0</text><line x1="206" y1="55" x2="221" y2="55" stroke="#e8301f" stroke-width="2.5"/><text x="233" y="58" font-size="10" text-anchor="middle">100</text><line x1="200" y1="77.5" x2="248" y2="77.5" stroke="#aaa" stroke-width="3" stroke-dasharray="1 5"/><text x="292" y="25" font-size="15" text-anchor="middle">Gas</text><text x="292" y="47" font-size="15" text-anchor="middle">reservoir</text><text x="292" y="67" font-size="15" text-anchor="middle">type</text></g>
</g>

<!-- LEGEND -->
<g stroke="#999" stroke-width="0.8">
<rect x="50" y="724" width="84" height="42" fill="url(#ms)"/>
<rect x="223" y="724" width="84" height="42" fill="url(#fs)"/>
<rect x="396" y="724" width="84" height="42" fill="url(#si)"/>
<rect x="569" y="724" width="84" height="42" fill="url(#mu)"/>
<rect x="742" y="724" width="84" height="42" fill="url(#sh)"/>
<rect x="915" y="724" width="84" height="42" fill="url(#md)"/>
<rect x="1088" y="724" width="84" height="42" fill="#2a221e"/>
<rect x="1261" y="724" width="84" height="42" fill="url(#ls)"/>
<rect x="1434" y="724" width="84" height="42" fill="url(#lm)"/>
</g>
<g font-size="17" text-anchor="middle">
<text x="97" y="791">Medium sandstone</text><text x="269" y="791">Fine sandstone</text><text x="440" y="791">Siltstone</text><text x="612" y="785">Muddy siltstone</text><text x="793" y="791">Carbonaceous shale</text><text x="960" y="791">Mudstone</text><text x="1120" y="791">Coal</text><text x="1305" y="791">Limestone</text><text x="1485" y="791">Lime mudstone</text>
</g>
</svg>
</body></html>
